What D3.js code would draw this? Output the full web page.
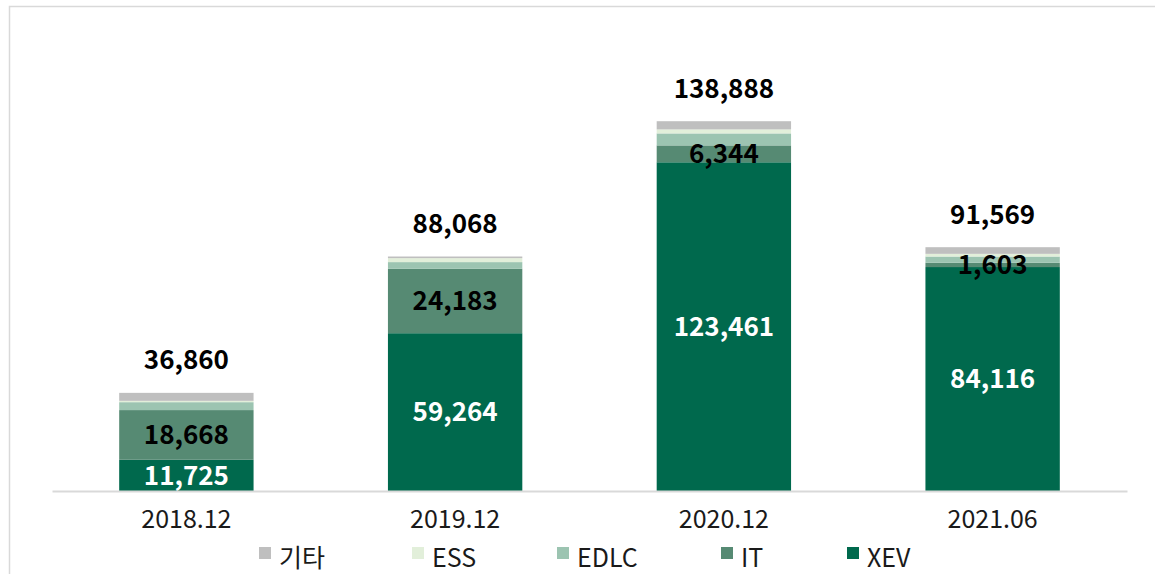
<!DOCTYPE html>
<html>
<head>
<meta charset="utf-8">
<script src="https://cdn.jsdelivr.net/npm/d3@7/dist/d3.min.js"></script>
<style>
  html, body { margin: 0; padding: 0; background: #fff; }
  svg { display: block; }
  text { font-family: "Noto Sans CJK KR", "Noto Sans", sans-serif; }
</style>
</head>
<body>
<svg id="chart" width="1155" height="574"></svg>
<script>
// Periods shown on the x axis
const periods = ["2018.12", "2019.12", "2020.12", "2021.06"];

// Stack order from bottom to top
const seriesNames = ["XEV", "IT", "EDLC", "ESS", "기타"];

// Values per series, one entry per period
const xev   = [11725, 59264, 123461, 84116];
const it    = [18668, 24183, 6344, 1603];
const edlc  = [2967, 2521, 4500, 2350];
const ess   = [500, 1500, 1500, 1000];
const other = [3000, 600, 3083, 2500];

// Totals printed above each column
const totals = [36860, 88068, 138888, 91569];

// Which series get a printed value inside the column
const labelledSeries = ["XEV", "IT"];

// Legend order, left to right
const legendOrder = ["기타", "ESS", "EDLC", "IT", "XEV"];

const colors = {
  "XEV": "#00694d",
  "IT": "#568a73",
  "EDLC": "#9cc4b1",
  "ESS": "#e2efda",
  "기타": "#bfbfbf"
};
const labelColors = { "XEV": "#ffffff", "IT": "#000000" };

const rows = periods.map((p, i) => ({
  period: p,
  "XEV": xev[i], "IT": it[i], "EDLC": edlc[i], "ESS": ess[i], "기타": other[i],
  total: totals[i]
}));

const svg = d3.select("#chart");
const fmt = d3.format(",");

// Outer frame
svg.append("rect")
  .attr("x", 9.5).attr("y", 6.5)
  .attr("width", 1160).attr("height", 600)
  .attr("fill", "none").attr("stroke", "#d9d9d9").attr("stroke-width", 1.5);

const plot = { left: 52, right: 1127, top: 65, bottom: 491 };

const x = d3.scaleBand()
  .domain(periods)
  .range([plot.left, plot.right])
  .paddingInner(0.5)
  .paddingOuter(0.25);

const y = d3.scaleLinear()
  .domain([0, 160000])
  .range([plot.bottom, plot.top]);

const stack = d3.stack().keys(seriesNames);
const layers = stack(rows);

const g = svg.append("g");

g.selectAll("g.layer")
  .data(layers)
  .join("g")
  .attr("class", "layer")
  .attr("fill", d => colors[d.key])
  .selectAll("rect")
  .data(d => d)
  .join("rect")
  .attr("x", d => x(d.data.period))
  .attr("width", x.bandwidth())
  .attr("y", d => y(d[1]))
  .attr("height", d => y(d[0]) - y(d[1]));

// Category axis line
const xAxis = d3.axisBottom(x).tickSize(0).tickPadding(19);
const axisG = svg.append("g")
  .attr("transform", `translate(0,${plot.bottom})`)
  .call(xAxis);
axisG.select(".domain").attr("stroke", "#d9d9d9").attr("stroke-width", 2);
axisG.selectAll(".tick text")
  .attr("font-size", 25)
  .attr("fill", "#1a1a1a")
  .style("font-family", "'Noto Sans CJK KR', 'Noto Sans', sans-serif");

// Values inside the XEV and IT segments
layers.filter(l => labelledSeries.includes(l.key)).forEach(layer => {
  g.selectAll(null)
    .data(layer)
    .join("text")
    .attr("x", d => x(d.data.period) + x.bandwidth() / 2)
    .attr("y", d => (y(d[0]) + y(d[1])) / 2)
    .attr("dy", "0.36em")
    .attr("text-anchor", "middle")
    .attr("font-size", 26)
    .attr("font-weight", "bold")
    .attr("fill", labelColors[layer.key])
    .text(d => fmt(d.data[layer.key]));
});

// Totals above the columns
g.selectAll("text.total")
  .data(rows)
  .join("text")
  .attr("class", "total")
  .attr("x", d => x(d.period) + x.bandwidth() / 2)
  .attr("y", d => y(d.total) - 33)
  .attr("dy", "0.36em")
  .attr("text-anchor", "middle")
  .attr("font-size", 26)
  .attr("font-weight", "bold")
  .attr("fill", "#000")
  .text(d => fmt(d.total));

// Legend
const legendX = { "기타": 259, "ESS": 412, "EDLC": 557, "IT": 721, "XEV": 847 };
const legend = svg.append("g");
legendOrder.forEach(name => {
  const lg = legend.append("g").attr("transform", `translate(${legendX[name]},547)`);
  lg.append("rect").attr("width", 12).attr("height", 12).attr("fill", colors[name]);
  lg.append("text")
    .attr("x", 20).attr("y", 20)
    .attr("font-size", 25)
    .attr("fill", "#1a1a1a")
    .text(name);
});
</script>
</body>
</html>
